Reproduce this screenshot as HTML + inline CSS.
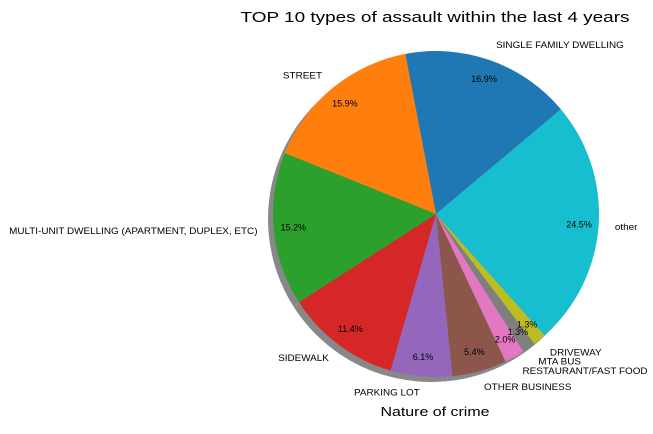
<!DOCTYPE html>
<html><head><meta charset="utf-8"><style>
body{margin:0;background:#fff;width:653px;height:429px;overflow:hidden;font-family:"Liberation Sans",sans-serif}
</style></head><body>
<svg id="chart" width="653" height="429" viewBox="0 0 653 429" xmlns="http://www.w3.org/2000/svg" font-family="Liberation Sans, sans-serif">
<text x="435" y="22" font-size="15" text-anchor="middle" fill="#000" textLength="389" lengthAdjust="spacingAndGlyphs">TOP 10 types of assault within the last 4 years</text>
<text x="435" y="416" font-size="13" text-anchor="middle" fill="#000" textLength="109" lengthAdjust="spacingAndGlyphs">Nature of crime</text>
<g id="shadow"></g><g id="slices"></g><g id="labels"></g>
</svg>
<script>
const categories=["SINGLE FAMILY DWELLING","STREET","MULTI-UNIT DWELLING (APARTMENT, DUPLEX, ETC)","SIDEWALK","PARKING LOT","OTHER BUSINESS","RESTAURANT/FAST FOOD","MTA BUS","DRIVEWAY","other"];
const values=[16.9,15.9,15.2,11.4,6.1,5.4,2.0,1.3,1.3,24.5];
const colors=["#1f77b4","#ff7f0e","#2ca02c","#d62728","#9467bd","#8c564b","#e377c2","#7f7f7f","#bcbd22","#17becf"];
const cx=436,cy=214,r=163,startAngle=40;
const NS="http://www.w3.org/2000/svg";
const total=values.reduce((a,b)=>a+b,0);
function pt(a,rr){const t=a*Math.PI/180;return [cx+rr*Math.cos(t),cy-rr*Math.sin(t)];}
function wedge(a0,a1,dx,dy){const p0=pt(a0,r),p1=pt(a1,r);const large=(a1-a0)>180?1:0;
return `M${cx+dx},${cy+dy} L${p0[0]+dx},${p0[1]+dy} A${r},${r} 0 ${large} 0 ${p1[0]+dx},${p1[1]+dy} Z`;}
const sh=document.getElementById('shadow'),sl=document.getElementById('slices'),lb=document.getElementById('labels');
function stretch(t){const w=t.getComputedTextLength();t.setAttribute('textLength',(w*1.1).toFixed(1));t.setAttribute('lengthAdjust','spacingAndGlyphs');}
let a=startAngle;
values.forEach((v,i)=>{
 const a1=a+v/total*360;
 const s=document.createElementNS(NS,'path');
 s.setAttribute('d',wedge(a,a1,-5,5));s.setAttribute('fill','#888888');
 
 
 sh.appendChild(s);
 const p=document.createElementNS(NS,'path');
 p.setAttribute('d',wedge(a,a1,0,0));p.setAttribute('fill',colors[i]);
 
 
 sl.appendChild(p);
 const mid=(a+a1)/2;
 const lp=pt(mid,r*1.1);
 const t=document.createElementNS(NS,'text');
 t.setAttribute('x',lp[0]);t.setAttribute('y',lp[1]+3);t.setAttribute('font-size','9');
 t.setAttribute('text-anchor',Math.cos(mid*Math.PI/180)>=0?'start':'end');
 t.textContent=categories[i];
 
 
 lb.appendChild(t);
 stretch(t);
 const pp=pt(mid,r*0.88);
 const q=document.createElementNS(NS,'text');
 q.setAttribute('x',pp[0]);q.setAttribute('y',pp[1]+3);q.setAttribute('font-size','9');q.setAttribute('text-anchor','middle');
 q.textContent=v.toFixed(1)+'%';
 
 
 lb.appendChild(q);
 a=a1;
});
</script>
</body></html>
